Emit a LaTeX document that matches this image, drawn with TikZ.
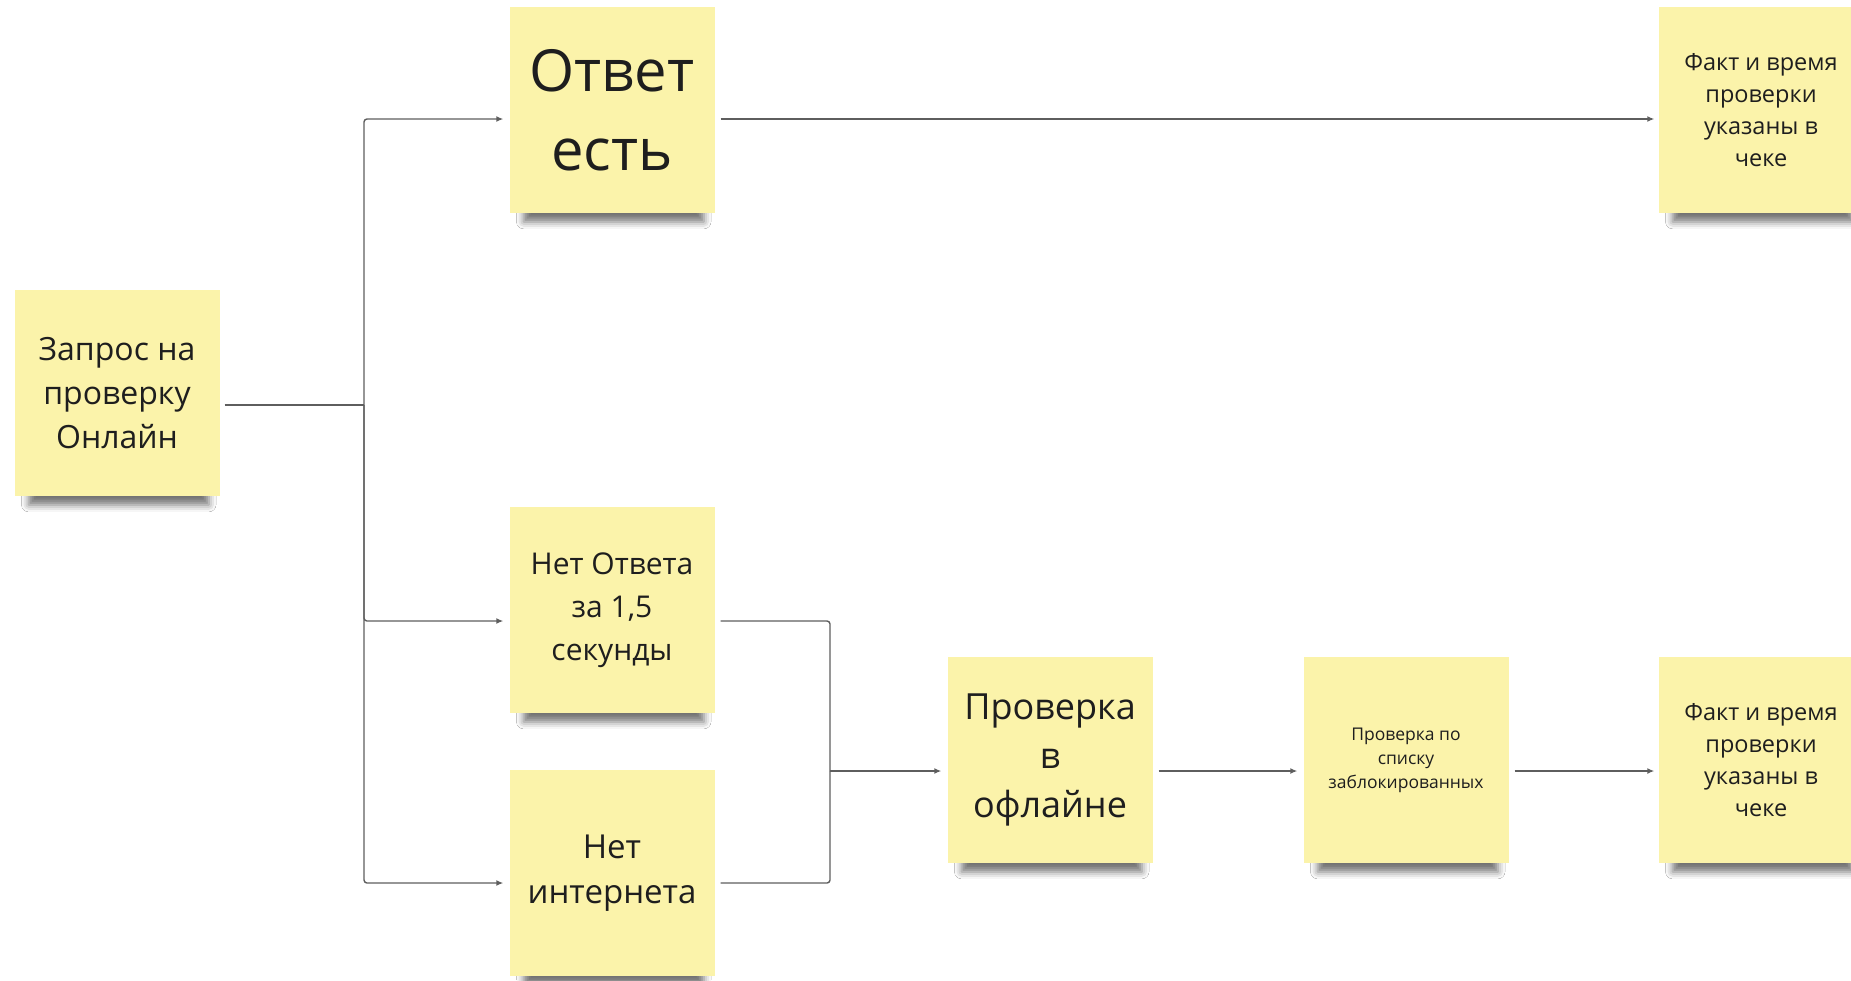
\documentclass[tikz,border=0pt]{standalone}
\usepackage{fontspec}
\setmainfont{Open Sans}
\usetikzlibrary{arrows.meta, shadows.blur}

\definecolor{sticky}{HTML}{FBF3AA}
\definecolor{wire}{HTML}{5E5E5E}
\definecolor{ink}{HTML}{1E1E1E}

\tikzset{
	note/.style = {draw = none, fill = sticky, text = ink, align = center, inner sep = 0pt,
		minimum width = 205pt, minimum height = 206pt,
		blur shadow = {shadow xshift = 2pt, shadow yshift = -24pt, shadow scale = 0.88,
			shadow opacity = 55, shadow blur radius = 8pt}},
	wire/.style = {draw = wire, line width = 1.4pt, rounded corners = 3pt}
}

\begin{document}
\begin{tikzpicture}[x = 1pt, y = -1pt, > = {Latex[length = 7pt, width = 6pt]}]

	\useasboundingbox [fill = white] (0, 0) rectangle (1851, 980);

	% Notes

	\node [note, font = \fontsize{32}{44}\selectfont] (zapros) at (117, 393) {Запрос на\\проверку\\Онлайн};
	\node [note, font = \fontsize{58}{79}\selectfont] (otvet) at (612, 110) {Ответ\\есть};
	\node [note, font = \fontsize{23.5}{32}\selectfont] (faktA) at (1761, 110) {Факт и время\\проверки\\указаны в\\чеке};
	\node [note, font = \fontsize{30}{43}\selectfont] (netotv) at (612, 610) {Нет Ответа\\за 1,5\\секунды};
	\node [note, font = \fontsize{33}{45}\selectfont] (netinet) at (612, 873) {Нет\\интернета};
	\node [note, font = \fontsize{36}{49}\selectfont] (offline) at (1050, 760) {Проверка\\в\\офлайне};
	\node [note, font = \fontsize{17.5}{24}\selectfont] (spisok) at (1406, 760) {Проверка по\\списку\\заблокированных};
	\node [note, font = \fontsize{23.5}{32}\selectfont] (faktB) at (1761, 760) {Факт и время\\проверки\\указаны в\\чеке};

	% Split and merge points

	\coordinate (split) at (364, 405);
	\coordinate (merge) at (830, 771);

	% Fan out

	\draw [wire, shorten <= 5pt] ([yshift = -12pt] zapros.east) -- (split);
	\draw [wire, ->, shorten >= 6pt] (split) |- ([yshift = -9pt] otvet.west);
	\draw [wire, ->, shorten >= 6pt] (split) |- ([yshift = -11pt] netotv.west);
	\draw [wire, ->, shorten >= 6pt] (split) |- ([yshift = -10pt] netinet.west);

	% Upper row

	\draw [wire, ->, shorten <= 6pt, shorten >= 4pt] ([yshift = -9pt] otvet.east) -- ([yshift = -9pt] faktA.west);

	% Merge into offline check

	\draw [wire, shorten <= 6pt] ([yshift = -11pt] netotv.east) -| (merge);
	\draw [wire, shorten <= 6pt] ([yshift = -10pt] netinet.east) -| (merge);
	\draw [wire, ->, shorten >= 6pt] (merge) -- ([yshift = -11pt] offline.west);

	% Lower row

	\draw [wire, ->, shorten <= 6pt, shorten >= 6pt] ([yshift = -11pt] offline.east) -- ([yshift = -11pt] spisok.west);
	\draw [wire, ->, shorten <= 6pt, shorten >= 4pt] ([yshift = -11pt] spisok.east) -- ([yshift = -11pt] faktB.west);

\end{tikzpicture}
\end{document}
